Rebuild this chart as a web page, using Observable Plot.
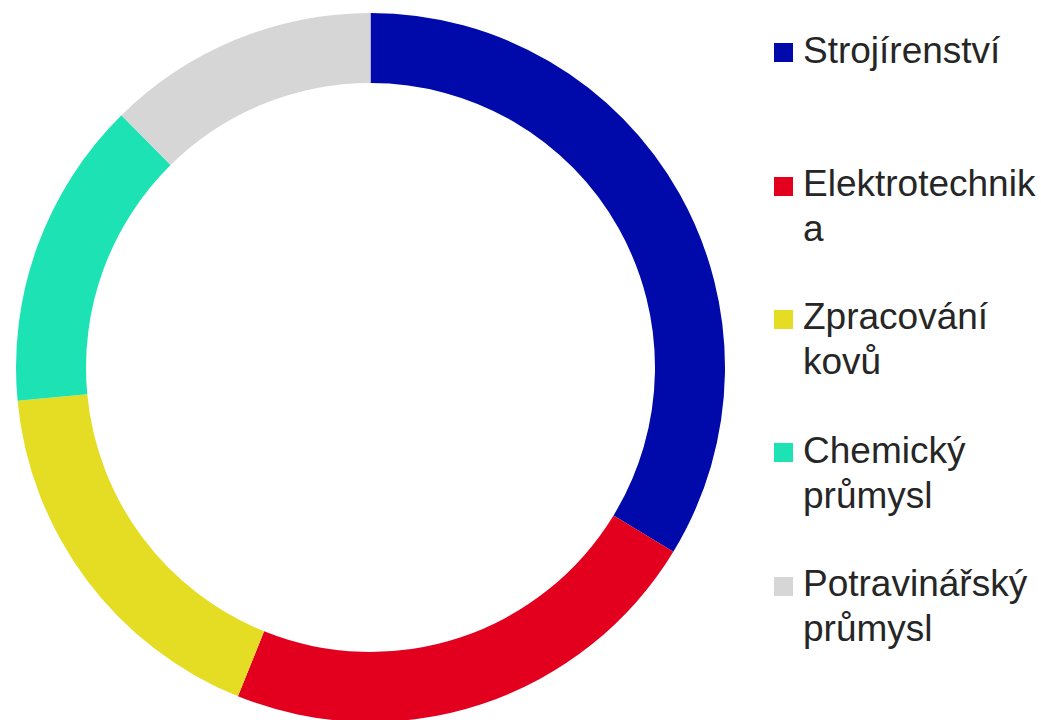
<!DOCTYPE html>
<html>
<head>
<meta charset="utf-8">
<script src="https://cdn.jsdelivr.net/npm/d3@7"></script>
<script src="https://cdn.jsdelivr.net/npm/@observablehq/plot@0.6"></script>
<style>
  html, body { margin: 0; padding: 0; background: #ffffff; }
  #wrap { position: relative; width: 1041px; height: 720px; overflow: hidden; font-family: "Liberation Sans", Arial, sans-serif; }
  #chart { position: absolute; left: 0; top: 0; }
  #legend { position: absolute; left: 774px; top: 27.7px; }
  .item { position: relative; height: 133.4px; }
  .sw { position: absolute; left: 0; top: 15.5px; width: 19px; height: 19px; }
  .lab { position: absolute; left: 29px; top: 0; font-size: 37px; line-height: 45px; color: #262626; white-space: nowrap; }
</style>
</head>
<body>
<div id="wrap">
  <div id="chart"></div>
  <div id="legend"></div>
</div>
<script>
// Categories (clockwise from 12 o'clock)
const categories = ["Strojírenství", "Elektrotechnika", "Zpracování kovů", "Chemický průmysl", "Potravinářský průmysl"];
// Share of each category (%)
const shares = [33.7, 22.4, 17.4, 14.1, 12.4];
// Slice colours
const colors = ["#0009A9", "#E3001F", "#E4DD23", "#1DE3B4", "#D6D6D6"];
// Legend labels as they wrap in the reference
const legendLines = [["Strojírenství"], ["Elektrotechnik", "a"], ["Zpracování", "kovů"], ["Chemický", "průmysl"], ["Potravinářský", "průmysl"]];

const data = categories.map((c, i) => ({category: c, share: shares[i]}));
const innerRatio = 0.8025;

const donut = Plot.dot(data, {
  x: () => 0,
  y: () => 0,
  fill: "category",
  render: (index, scales, values, dimensions, context) => {
    const cx = scales.x(0), cy = scales.y(0);
    const R = scales.x(1) - cx;
    const arcs = d3.pie().sort(null).value(i => data[i].share)(Array.from(index));
    const arc = d3.arc().innerRadius(R * innerRatio).outerRadius(R);
    const g = d3.create("svg:g").attr("transform", `translate(${cx},${cy})`);
    g.selectAll("path").data(arcs).join("path")
      .attr("d", arc)
      .attr("fill", a => values.fill[a.data]);
    return g.node();
  }
});

const plot = Plot.plot({
  width: 1041,
  height: 720,
  margin: 0,
  x: {domain: [-1, 1], range: [16, 725], axis: null},
  y: {domain: [-1, 1], range: [722, 13], axis: null},
  color: {domain: categories, range: colors},
  style: {background: "transparent"},
  marks: [donut]
});
document.getElementById("chart").appendChild(plot);

// HTML legend using the plot's colour scale
const colorScale = plot.scale("color");
const legend = d3.select("#legend");
categories.forEach((c, i) => {
  const item = legend.append("div").attr("class", "item");
  item.append("div").attr("class", "sw").style("background", colorScale.apply(c));
  item.append("div").attr("class", "lab").html(legendLines[i].join("<br>"));
});
</script>
</body>
</html>
